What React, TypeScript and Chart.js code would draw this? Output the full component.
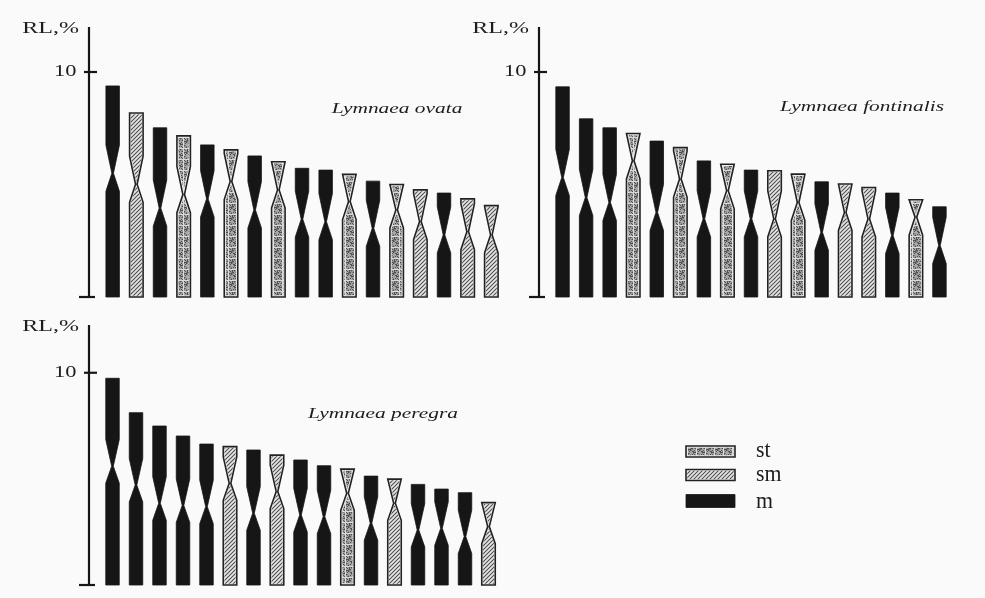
import React, { useEffect, useRef } from 'react';
import { Chart, registerables } from 'chart.js';

Chart.register(...registerables);

// ---------- data ----------
const yTickValues = [0, 10];
const axisLabel = 'RL,%';
const legendLabels = ['st', 'sm', 'm'];

const ovataLengths = [9.38, 8.18, 7.52, 7.16, 6.76, 6.54, 6.27, 6.01, 5.72, 5.64, 5.45, 5.15, 5.0, 4.76, 4.62, 4.36, 4.06];
const ovataCentromeres = [5.5, 5.01, 3.95, 4.55, 4.36, 5.13, 3.87, 4.76, 3.46, 3.35, 4.24, 3.05, 3.87, 3.35, 2.76, 2.9, 2.76];
const ovataTypes = ['m', 'sm', 'm', 'st', 'm', 'st', 'm', 'st', 'm', 'm', 'st', 'm', 'st', 'sm', 'm', 'sm', 'sm'];

const fontinalisLengths = [9.34, 7.92, 7.52, 7.27, 6.93, 6.64, 6.05, 5.9, 5.64, 5.61, 5.46, 5.12, 5.02, 4.87, 4.62, 4.32, 4.01];
const fontinalisCentromeres = [5.31, 4.42, 4.2, 6.05, 3.76, 5.24, 3.47, 4.72, 3.47, 3.47, 4.2, 2.88, 3.76, 3.47, 2.73, 3.55, 2.29];
const fontinalisTypes = ['m', 'm', 'm', 'st', 'm', 'st', 'm', 'st', 'm', 'sm', 'st', 'm', 'sm', 'sm', 'm', 'st', 'm'];

const peregraLengths = [9.74, 8.12, 7.49, 7.02, 6.64, 6.52, 6.36, 6.12, 5.89, 5.62, 5.46, 5.13, 4.99, 4.74, 4.52, 4.35, 3.88];
const peregraCentromeres = [5.6, 4.71, 3.85, 3.75, 3.69, 4.79, 3.38, 4.4, 3.3, 3.22, 4.32, 2.91, 3.85, 2.59, 2.67, 2.28, 2.75];
const peregraTypes = ['m', 'm', 'm', 'm', 'm', 'sm', 'm', 'sm', 'm', 'm', 'st', 'm', 'sm', 'm', 'm', 'm', 'sm'];

// ---------- layout / style ----------
const W = 985;
const H = 598;
const SERIF = '"Liberation Serif", "Times New Roman", serif';
const INK = '#161616';

type Panel = {
  lengths: number[];
  centromeres: number[];
  types: string[];
  title: string;
  titleX: number;
  titleY: number;
  left: number;
  right: number;
  top: number;
  bottom: number;
  yMax: number;
  legend: boolean;
};

const panels: Panel[] = [
  { lengths: ovataLengths, centromeres: ovataCentromeres, types: ovataTypes, title: 'Lymnaea ovata', titleX: 397, titleY: 113, left: 89, right: 515, top: 27, bottom: 297, yMax: 12, legend: false },
  { lengths: fontinalisLengths, centromeres: fontinalisCentromeres, types: fontinalisTypes, title: 'Lymnaea fontinalis', titleX: 862, titleY: 111, left: 539, right: 963, top: 27, bottom: 297, yMax: 12, legend: false },
  { lengths: peregraLengths, centromeres: peregraCentromeres, types: peregraTypes, title: 'Lymnaea peregra', titleX: 383, titleY: 418, left: 89, right: 512, top: 325, bottom: 585, yMax: 12.25, legend: true },
];

let patterns: Record<string, CanvasPattern | string> | null = null;

function makePatterns(ctx: CanvasRenderingContext2D) {
  if (patterns) return patterns;
  const hatch = document.createElement('canvas');
  hatch.width = 4;
  hatch.height = 4;
  const h = hatch.getContext('2d')!;
  for (let x = 0; x < 4; x++) {
    for (let y = 0; y < 4; y++) {
      h.fillStyle = (x + y) % 4 === 0 ? '#555' : ((x + y) % 4 === 2 ? '#e6e6e6' : '#bcbcbc');
      h.fillRect(x, y, 1, 1);
    }
  }
  const stip = document.createElement('canvas');
  stip.width = 9;
  stip.height = 11;
  const s = stip.getContext('2d')!;
  for (let x = 0; x < 9; x++) {
    for (let y = 0; y < 11; y++) {
      const v = (x * 7 + y * 13 + x * y * 3) % 11;
      s.fillStyle = v < 3 ? '#505050' : v < 5 ? '#7e7e7e' : v > 9 ? '#dadada' : '#a6a6a6';
      s.fillRect(x, y, 1, 1);
    }
  }
  patterns = {
    m: INK,
    sm: ctx.createPattern(hatch, 'repeat') || '#ccc',
    st: ctx.createPattern(stip, 'repeat') || '#aaa',
  };
  return patterns;
}

function drawText(ctx: CanvasRenderingContext2D, text: string, x: number, y: number, font: string, align: CanvasTextAlign, sx: number, baseline: CanvasTextBaseline = 'alphabetic') {
  ctx.save();
  ctx.translate(x, y);
  ctx.scale(sx, 1);
  ctx.font = font;
  ctx.textAlign = align;
  ctx.textBaseline = baseline;
  ctx.fillStyle = '#1c1c1c';
  ctx.fillText(text, 0, 0);
  ctx.restore();
}

function chromosomePath(ctx: CanvasRenderingContext2D, xl: number, xr: number, yBase: number, yTop: number, yC: number, tu: number, tl: number) {
  const xc = (xl + xr) / 2;
  const n = 0.8;
  ctx.beginPath();
  ctx.moveTo(xl, yBase);
  ctx.lineTo(xl, yC + tl);
  ctx.lineTo(xc - n, yC);
  ctx.lineTo(xl, yC - tu);
  ctx.lineTo(xl, yTop);
  ctx.lineTo(xr, yTop);
  ctx.lineTo(xr, yC - tu);
  ctx.lineTo(xc + n, yC);
  ctx.lineTo(xr, yC + tl);
  ctx.lineTo(xr, yBase);
  ctx.closePath();
}

function fillShape(ctx: CanvasRenderingContext2D, type: string, pats: Record<string, CanvasPattern | string>) {
  ctx.fillStyle = pats[type] as any;
  ctx.fill();
  if (type === 'm') {
    ctx.lineWidth = 0.8;
    ctx.strokeStyle = INK;
    ctx.stroke();
    return;
  }
  ctx.save();
  ctx.clip();
  ctx.lineWidth = type === 'st' ? 3.5 : 2.5;
  ctx.strokeStyle = '#ececec';
  ctx.stroke();
  ctx.restore();
  ctx.lineWidth = 1.6;
  ctx.strokeStyle = '#222';
  ctx.stroke();
}

const karyoPlugin = {
  id: 'karyo',
  afterDatasetsDraw(chart: any, _args: any, opts: any) {
    const ctx: CanvasRenderingContext2D = chart.ctx;
    const pats = makePatterns(ctx);
    const ys = chart.scales.y;
    const area = chart.chartArea;
    const unit = ys.getPixelForValue(0) - ys.getPixelForValue(1);
    const meta = chart.getDatasetMeta(0);
    ctx.save();
    ctx.lineJoin = 'miter';
    meta.data.forEach((el: any, i: number) => {
      const { x, width, base, y } = el.getProps(['x', 'width', 'base', 'y'], true);
      const xl = x - width / 2;
      const xr = x + width / 2;
      const c = opts.centromeres[i];
      const yC = ys.getPixelForValue(c);
      const pArm = opts.lengths[i] - c;
      const tu = Math.min(pArm, 1.25) * unit;
      const tl = Math.min(c, 0.8) * unit;
      chromosomePath(ctx, xl, xr, base, y, yC, tu, tl);
      fillShape(ctx, opts.types[i], pats);
    });

    // axis line & ticks
    const ax = area.left;
    ctx.strokeStyle = INK;
    ctx.lineWidth = 2.2;
    ctx.lineCap = 'butt';
    ctx.beginPath();
    ctx.moveTo(ax, area.top);
    ctx.lineTo(ax, ys.getPixelForValue(0) + 1);
    ctx.stroke();
    ys.ticks.forEach((t: any) => {
      const py = ys.getPixelForValue(t.value);
      ctx.beginPath();
      if (t.value === 0) {
        ctx.moveTo(ax - 10, py);
        ctx.lineTo(ax + 6, py);
      } else {
        ctx.moveTo(ax - 5, py);
        ctx.lineTo(ax + 8, py);
      }
      ctx.stroke();
      if (t.value !== 0) {
        drawText(ctx, String(t.value), ax - 12.5, py, `16px ${SERIF}`, 'right', 1.4, 'middle');
      }
    });
    drawText(ctx, axisLabel, ax - 10, area.top + 6, `16px ${SERIF}`, 'right', 1.5);

    // species title
    drawText(ctx, opts.title, opts.titleX, opts.titleY, `italic 15.5px ${SERIF}`, 'center', 1.38);

    // legend
    if (opts.legend) {
      const boxY = [446, 469.5, 494.5];
      const textY = [456.5, 481, 507.5];
      legendLabels.forEach((lab, k) => {
        ctx.beginPath();
        ctx.rect(686, boxY[k], 49, k === 2 ? 13 : 11);
        fillShape(ctx, lab, pats);
        drawText(ctx, lab, 756, textY[k], `23px ${SERIF}`, 'left', 0.95);
      });
    }
    ctx.restore();
  },
};

function PanelChart({ p }: { p: Panel }) {
  const ref = useRef<HTMLCanvasElement | null>(null);
  useEffect(() => {
    if (!ref.current) return;
    const chart = new Chart(ref.current, {
      type: 'bar',
      data: {
        datasets: [
          {
            data: p.lengths.map((v, i) => ({ x: i + 1, y: v })),
            backgroundColor: 'rgba(0,0,0,0)',
            borderWidth: 0,
            barThickness: 13.5,
          } as any,
        ],
      },
      options: {
        animation: false,
        responsive: false,
        maintainAspectRatio: false,
        devicePixelRatio: 1,
        events: [],
        layout: { padding: { left: p.left, right: W - p.right, top: p.top, bottom: H - p.bottom } },
        plugins: {
          legend: { display: false },
          tooltip: { enabled: false },
          karyo: {
            lengths: p.lengths,
            centromeres: p.centromeres,
            types: p.types,
            title: p.title,
            titleX: p.titleX,
            titleY: p.titleY,
            legend: p.legend,
          },
        } as any,
        scales: {
          x: { type: 'linear', min: 0, max: 18, offset: false, display: false },
          y: {
            type: 'linear',
            min: 0,
            max: p.yMax,
            display: true,
            ticks: { display: false, padding: 0 },
            grid: { display: false, drawTicks: false, tickLength: 0 },
            border: { display: false },
            afterBuildTicks: (s: any) => {
              s.ticks = yTickValues.map((v) => ({ value: v }));
            },
          },
        },
      },
      plugins: [karyoPlugin as any],
    });
    return () => chart.destroy();
  }, [p]);
  return (
    <canvas
      ref={ref}
      width={W}
      height={H}
      style={{ position: 'absolute', left: 0, top: 0, width: W, height: H }}
    />
  );
}

export default function App() {
  return (
    <div style={{ position: 'absolute', left: 0, top: 0, width: W, height: H, background: '#fafafa', overflow: 'hidden' }}>
      {panels.map((p, i) => (
        <PanelChart key={i} p={p} />
      ))}
    </div>
  );
}
